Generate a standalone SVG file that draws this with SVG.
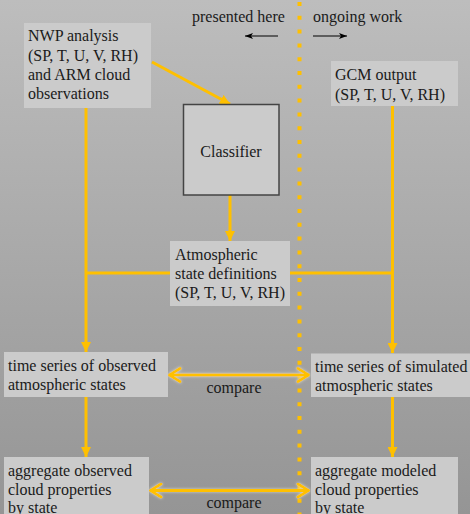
<svg xmlns="http://www.w3.org/2000/svg" width="470" height="514" viewBox="0 0 470 514">
<defs>
<linearGradient id="bg" x1="0" y1="0" x2="0" y2="1">
<stop offset="0" stop-color="#bdbdbd"/>
<stop offset="1" stop-color="#959595"/>
</linearGradient>
<filter id="glow" x="-10%" y="-100%" width="120%" height="300%">
<feGaussianBlur in="SourceAlpha" stdDeviation="1.5" result="b"/>
<feFlood flood-color="#e8e8d0" flood-opacity="0.8"/>
<feComposite in2="b" operator="in" result="g"/>
<feMerge><feMergeNode in="g"/><feMergeNode in="SourceGraphic"/></feMerge>
</filter>
<marker id="tri" viewBox="0 0 10 10" refX="10" refY="5" markerWidth="10" markerHeight="10" markerUnits="userSpaceOnUse" orient="auto">
<path d="M0,0 L10,5 L0,10 z" fill="#ffc000"/>
</marker>
<marker id="chev" viewBox="0 0 14 16" refX="13" refY="8" markerWidth="14" markerHeight="16" markerUnits="userSpaceOnUse" orient="auto-start-reverse">
<path d="M2,1.5 L12.5,8 L2,14.5" fill="none" stroke="#ffc000" stroke-width="3" stroke-linecap="round" stroke-linejoin="round"/>
</marker>
<marker id="blk" viewBox="0 0 8 6" refX="8" refY="3" markerWidth="8" markerHeight="6" markerUnits="userSpaceOnUse" orient="auto">
<path d="M0,0 L8,3 L0,6 L2,3 z" fill="#000"/>
</marker>
</defs>
<style>
text{font-family:'Liberation Serif','Times New Roman',serif;font-size:16px;fill:#1a1a1a}
.box{fill:#cbcbcb}
.ln{stroke:#ffc000;stroke-width:3;fill:none}
</style>
<rect width="470" height="514" fill="url(#bg)"/>
<line x1="299.5" y1="2" x2="299.5" y2="514" stroke="#ffc000" stroke-width="4" stroke-dasharray="4 9.8"/>
<g id="legend">
<text x="192" y="22">presented here</text>
<text x="313" y="22">ongoing work</text>
<line x1="278" y1="36" x2="245" y2="36" stroke="#000" stroke-width="1.2" marker-end="url(#blk)"/>
<line x1="313" y1="36" x2="347" y2="36" stroke="#000" stroke-width="1.2" marker-end="url(#blk)"/>
</g>
<g id="connectors">
<line class="ln" x1="152" y1="62" x2="230" y2="104" marker-end="url(#tri)"/>
<line class="ln" x1="86" y1="108" x2="86" y2="352" marker-end="url(#tri)"/>
<line class="ln" x1="392.5" y1="106" x2="392.5" y2="353" marker-end="url(#tri)"/>
<line class="ln" x1="230" y1="195" x2="230" y2="241" marker-end="url(#tri)"/>
<line class="ln" x1="86" y1="273" x2="170" y2="273"/>
<line class="ln" x1="290" y1="273" x2="392.5" y2="273"/>
<line class="ln" x1="86" y1="397" x2="86" y2="457" marker-end="url(#tri)"/>
<line class="ln" x1="392.5" y1="397" x2="392.5" y2="457" marker-end="url(#tri)"/>
<g filter="url(#glow)">
<line class="ln" x1="169" y1="375" x2="309" y2="375" marker-start="url(#chev)" marker-end="url(#chev)"/>
<line class="ln" x1="150" y1="490.5" x2="309" y2="490.5" marker-start="url(#chev)" marker-end="url(#chev)"/>
</g>
<text x="234" y="393" text-anchor="middle">compare</text>
<text x="234" y="508" text-anchor="middle">compare</text>
</g>
<g id="nwp">
<rect class="box" x="24" y="23" width="127" height="85"/>
<text x="28" y="41">NWP analysis</text>
<text x="28" y="60.5">(SP, T, U, V, RH)</text>
<text x="28" y="79.5">and ARM cloud</text>
<text x="28" y="99">observations</text>
</g>
<g id="gcm">
<rect class="box" x="331" y="61" width="127" height="45"/>
<text x="335" y="80">GCM output</text>
<text x="335" y="99.5">(SP, T, U, V, RH)</text>
</g>
<g id="classifier">
<rect class="box" x="183.5" y="104.5" width="95.5" height="90.5" stroke="#444" stroke-width="1.5"/>
<text x="231" y="157" text-anchor="middle">Classifier</text>
</g>
<g id="atmos">
<rect class="box" x="170" y="241" width="120" height="65"/>
<text x="175" y="260">Atmospheric</text>
<text x="175" y="279">state definitions</text>
<text x="175" y="298">(SP, T, U, V, RH)</text>
</g>
<g id="ts-obs">
<rect class="box" x="4" y="352" width="164" height="45"/>
<text x="8" y="371">time series of observed</text>
<text x="8" y="390">atmospheric states</text>
</g>
<g id="ts-sim">
<rect class="box" x="311" y="353.5" width="159" height="43.5"/>
<text x="315" y="372">time series of simulated</text>
<text x="315" y="391">atmospheric states</text>
</g>
<g id="agg-obs">
<rect class="box" x="4" y="457" width="145" height="60"/>
<text x="8" y="476">aggregate observed</text>
<text x="8" y="495">cloud properties</text>
<text x="8" y="513">by state</text>
</g>
<g id="agg-mod">
<rect class="box" x="311" y="457" width="147" height="60"/>
<text x="315" y="476">aggregate modeled</text>
<text x="315" y="495">cloud properties</text>
<text x="315" y="513">by state</text>
</g>
</svg>
